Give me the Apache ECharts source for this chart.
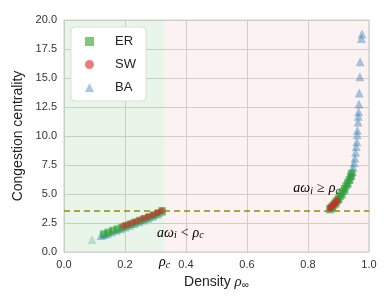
<!DOCTYPE html>
<html><head><meta charset="utf-8">
<script src="https://cdn.jsdelivr.net/npm/echarts@6/dist/echarts.min.js"></script>
<style>html,body{margin:0;padding:0;background:#fff}#c{width:392px;height:308px}</style>
</head><body><div id="c"></div>
<script>
// ---- data ----
const xTicks = [0.0, 0.2, 0.4, 0.6, 0.8, 1.0];
const yTicks = [0, 2.5, 5, 7.5, 10, 12.5, 15, 17.5, 20];
const rhoC = 0.33;
const thresholdY = 3.55;
const seriesNames = ['ER', 'SW', 'BA'];

const erX = [0.13,0.145,0.16,0.175,0.19,0.205,0.22,0.235,0.25,0.265,0.28,0.295,0.31,0.322,
             0.872,0.876,0.88,0.884,0.888,0.892,0.896,0.9,0.905,0.91,0.915,0.92,0.925,0.93,0.935,0.94,0.943];
const erY = [1.55,1.7,1.85,1.98,2.12,2.27,2.42,2.56,2.72,2.87,3.02,3.18,3.35,3.55,
             3.72,3.82,3.93,4.05,4.18,4.3,4.44,4.6,4.8,5.0,5.22,5.45,5.7,5.95,6.2,6.5,6.78];

const swX = [0.195,0.21,0.226,0.242,0.258,0.274,0.29,0.306,0.32,
             0.872,0.877,0.882,0.887,0.892,0.895];
const swY = [2.27,2.4,2.56,2.72,2.88,3.04,3.2,3.38,3.55,
             3.78,3.9,4.03,4.17,4.32,4.45];

const baX = [0.122,0.132,0.142,0.155,0.17,0.185,0.2,0.215,0.23,0.245,0.26,0.275,0.29,0.305,0.32,
             0.872,0.88,0.89,0.9,0.91,0.92,0.93,0.936,0.941,0.945,0.948,0.951,0.954,0.956,0.958,0.96,
             0.961,0.962,0.964,0.965,0.966,0.967,0.968,0.970,0.971,0.975,0.977];
const baY = [1.42,1.5,1.6,1.72,1.87,2.0,2.15,2.3,2.45,2.6,2.75,2.92,3.08,3.28,3.52,
             3.7,3.9,4.22,4.58,4.98,5.42,5.92,6.3,6.62,6.95,7.3,7.7,8.1,8.6,9.1,9.5,
             10.1,10.5,11.2,11.7,12.1,12.75,13.7,15.1,16.4,18.4,18.8];

const faintX = [0.092];
const faintY = [1.08];

const zip = (xs, ys) => xs.map((x, i) => [x, ys[i]]);

const chart = echarts.init(document.getElementById('c'), null, {renderer: 'canvas'});
const sans = 'Liberation Sans';
const serif = 'Liberation Serif';

const option = {
  animation: false,
  backgroundColor: '#ffffff',
  grid: {left: 64, right: 23, top: 20, bottom: 56, show: true, borderColor: '#d6d6d6', borderWidth: 1.2, backgroundColor: 'transparent'},
  legend: {
    data: seriesNames,
    left: 71, top: 27,
    orient: 'vertical',
    itemWidth: 9, itemHeight: 9, itemGap: 10,
    padding: [8, 10, 7, 14],
    backgroundColor: '#ffffff',
    borderColor: '#dddddd', borderWidth: 1, borderRadius: 4,
    textStyle: {fontFamily: sans, fontSize: 13, color: '#222', padding: [0, 0, 0, 16]},
    z: 10
  },
  xAxis: {
    type: 'value', min: 0, max: 1, interval: 0.2,
    name: 'Density {it|ρ}{sub|∞}', nameLocation: 'middle', nameGap: 22,
    nameTextStyle: {fontFamily: sans, fontSize: 14, color: '#222',
      rich: {it: {fontFamily: serif, fontStyle: 'italic', fontSize: 15, color: '#222'},
             sub: {fontFamily: sans, fontSize: 10, color: '#222', padding: [6, 0, 0, 0]}}},
    axisLine: {show: false}, axisTick: {show: false},
    axisLabel: {fontFamily: sans, fontSize: 11, color: '#333', margin: 7, formatter: v => v.toFixed(1)},
    splitLine: {show: true, lineStyle: {color: '#d6d6d6', width: 1}}
  },
  yAxis: {
    type: 'value', min: 0, max: 20, interval: 2.5,
    name: 'Congestion centrality', nameLocation: 'middle', nameGap: 32,
    nameTextStyle: {fontFamily: sans, fontSize: 14, color: '#222'},
    axisLine: {show: false}, axisTick: {show: false},
    axisLabel: {fontFamily: sans, fontSize: 11, color: '#333', margin: 7, formatter: v => v.toFixed(1)},
    splitLine: {show: true, lineStyle: {color: '#d6d6d6', width: 1}}
  },
  series: [
    {
      name: 'regions', type: 'scatter', data: [], silent: true, z: 0,
      markArea: {silent: true, data: [
        [{xAxis: 0, itemStyle: {color: 'rgba(44,160,44,0.10)'}}, {xAxis: rhoC}],
        [{xAxis: rhoC, itemStyle: {color: 'rgba(214,39,40,0.06)'}}, {xAxis: 1}]
      ]},
      markLine: {silent: true, symbol: 'none', label: {show: false},
        lineStyle: {color: '#8f8f00', type: [6, 4], width: 1.6},
        data: [{yAxis: thresholdY}]}
    },
    {name: 'faint', type: 'scatter', data: zip(faintX, faintY), symbol: 'triangle', symbolSize: 9,
     itemStyle: {color: '#7fbfb0', opacity: 0.45}, z: 2},
    {name: 'BA', type: 'scatter', data: zip(baX, baY), symbol: 'triangle', symbolSize: 9,
     itemStyle: {color: '#1f77b4', opacity: 0.4}, z: 3},
    {name: 'ER', type: 'scatter', data: zip(erX, erY), symbol: 'rect', symbolSize: 7.5,
     itemStyle: {color: '#2ca02c', opacity: 0.6}, z: 4},
    {name: 'SW', type: 'scatter', data: zip(swX, swY), symbol: 'circle', symbolSize: 6.5,
     itemStyle: {color: '#d62728', opacity: 0.6}, z: 5}
  ]
};
chart.setOption(option);

const rich = {
  it: {fontFamily: serif, fontStyle: 'italic', fontSize: 14, color: '#111'},
  sub: {fontFamily: serif, fontStyle: 'italic', fontSize: 10, color: '#111', padding: [6, 0, 0, 0]},
  op: {fontFamily: serif, fontSize: 14, color: '#111', padding: [0, 4, 0, 4]}
};
const p1 = chart.convertToPixel({gridIndex: 0}, [0.752, 5.5]);
const p2 = chart.convertToPixel({gridIndex: 0}, [0.305, 1.65]);
const p3 = chart.convertToPixel({gridIndex: 0}, [rhoC, 0]);
chart.setOption({
  graphic: [
    {type: 'text', x: p1[0], y: p1[1], z: 20, style: {text: '{it|aω}{sub|i}{op|≥}{it|ρ}{sub|c}', rich, verticalAlign: 'middle'}},
    {type: 'text', x: p2[0], y: p2[1], z: 20, style: {text: '{it|aω}{sub|i}{op|<}{it|ρ}{sub|c}', rich, verticalAlign: 'middle'}},
    {type: 'text', x: p3[0], y: p3[1] + 10, z: 20, style: {text: '{it|ρ}{sub|c}', rich, align: 'center', verticalAlign: 'middle'}}
  ]
});
</script></body></html>
